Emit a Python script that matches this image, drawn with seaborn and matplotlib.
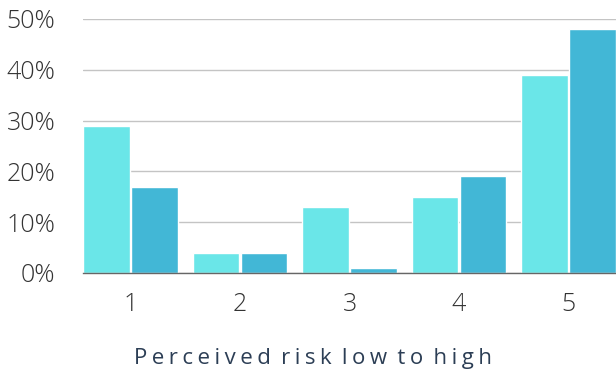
import pandas as pd
import matplotlib.pyplot as plt
import seaborn as sns

# Data (percent of respondents)
niveis = ["1", "2", "3", "4", "5"]
serie_a = [29, 4, 13, 15, 39]
serie_b = [17, 4, 1, 19, 48]
yticks = [0, 10, 20, 30, 40, 50]
titulo_x = "Perceived risk low to high"

dados = pd.DataFrame({
    "nivel": niveis * 2,
    "valor": serie_a + serie_b,
    "grupo": ["A"] * len(niveis) + ["B"] * len(niveis),
})

cores = ["#6ae6e8", "#42b7d6"]

sns.set_style("white")
plt.rcParams["font.family"] = ["Open Sans", "DejaVu Sans"]

fig = plt.figure(figsize=(6.16, 3.73), dpi=100)
ax = fig.add_axes([83 / 616, 1 - 273 / 373, 533 / 616, (273 - 19) / 373])

sns.barplot(data=dados, x="nivel", y="valor", hue="grupo", palette=cores,
            width=0.88, gap=0.03, saturation=1, legend=False, ax=ax)

ax.set_ylim(0, 50)
ax.set_xlim(-0.434, 4.434)
ax.set_yticks(yticks)
ax.set_yticklabels([f"{t}%" for t in yticks])
ax.yaxis.grid(True, color="#c4c4c4", linewidth=1)
ax.set_axisbelow(True)
for lado in ["top", "right", "left"]:
    ax.spines[lado].set_visible(False)
ax.spines["bottom"].set_color("#666666")
ax.spines["bottom"].set_linewidth(1)
ax.tick_params(axis="y", length=0, pad=20, labelsize=18, labelcolor="#333333")
ax.tick_params(axis="x", length=0, pad=14, labelsize=18, labelcolor="#333333")
for lbl in ax.get_yticklabels() + ax.get_xticklabels():
    lbl.set_fontweight("light")

ax.set_ylabel("")
ax.set_xlabel("")
# espaçamento entre letras com hair spaces, como no original
espacado = " \u200a\u200a".join("\u200a\u200a".join(palavra) for palavra in titulo_x.split(" "))
fig.text(313 / 616, 9 / 373, espacado, ha="center", va="baseline",
         fontsize=16, color="#2c3e55")

fig.savefig("out.png", dpi=100)
